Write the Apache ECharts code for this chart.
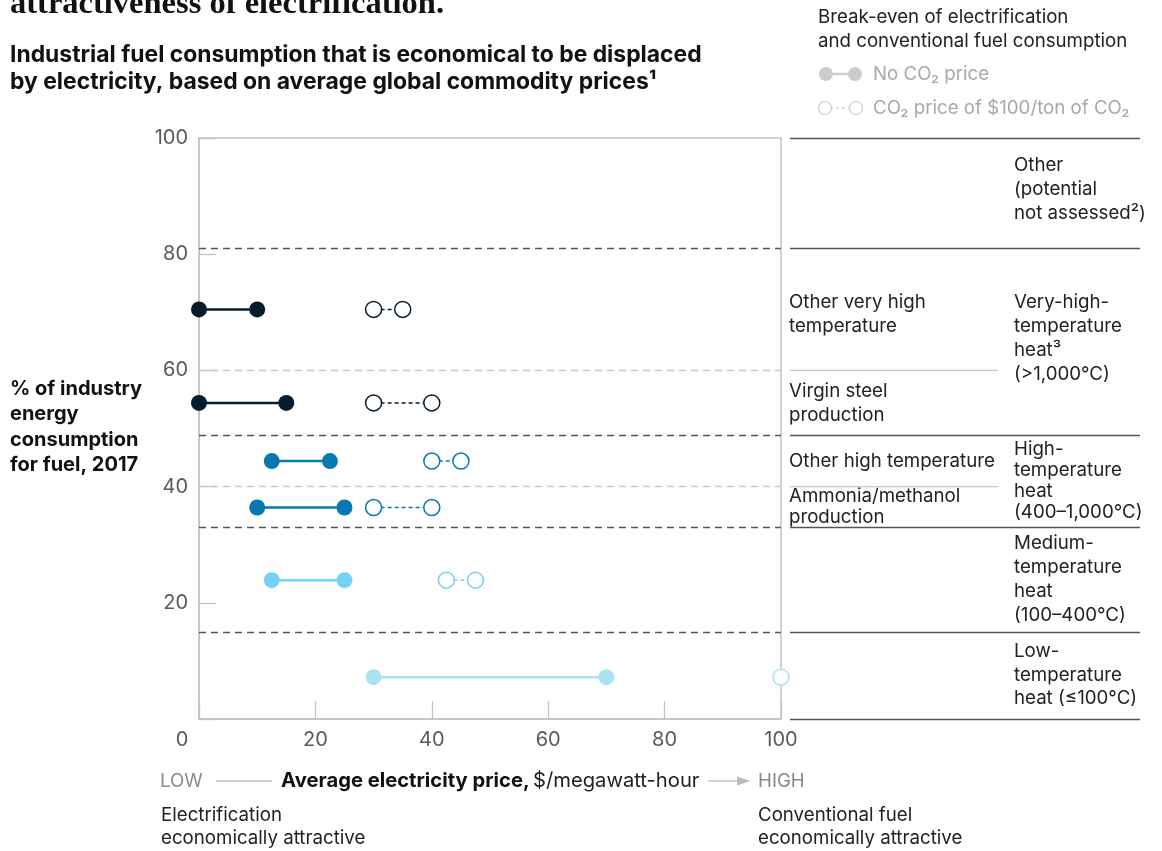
<!DOCTYPE html>
<html>
<head>
<meta charset="utf-8">
<script src="https://cdn.jsdelivr.net/npm/echarts@6/dist/echarts.min.js"></script>
<style>
html,body{margin:0;padding:0;background:#fff;}
#chart{width:1162px;height:851px;}
</style>
</head>
<body>
<div id="chart"></div>
<script>
// ---- data ----
const rowNames = ['Other very high temperature', 'Virgin steel production', 'Other high temperature', 'Ammonia/methanol production', 'Medium-temperature heat', 'Low-temperature heat'];
const rowY = [70.5, 54.4, 44.4, 36.4, 23.9, 7.2];
const noCo2Low = [0, 0, 12.5, 10, 12.5, 30];
const noCo2High = [10, 15, 22.5, 25, 25, 70];
const co2Low = [30, 30, 40, 30, 42.5, 100];
const co2High = [35, 40, 45, 40, 47.5, 100];
const groupBounds = [81, 48.9, 33, 15];
const subBounds = [60, 40];
const rightBounds = [100, 81, 48.9, 33, 15, 0];
const xTickValues = [0, 20, 40, 60, 80, 100];
const yTickValues = [20, 40, 60, 80, 100];

// ---- style ----
const rowColors = ['#051c2c', '#051c2c', '#0679b2', '#0679b2', '#74d3f2', '#a8e4ef'];
const FONT = 'Inter, "Liberation Sans", sans-serif';
const TXT = '#222';
const BASE = 18.7;

const series = [];
rowNames.forEach((name, i) => {
  const c = rowColors[i];
  series.push({
    name: name + ' (no CO2 price)', type: 'line', xAxisIndex: 0, yAxisIndex: 0,
    data: [[noCo2Low[i], rowY[i]], [noCo2High[i], rowY[i]]],
    symbol: 'circle', symbolSize: 16, clip: false, silent: true, z: 5,
    itemStyle: { color: c, borderWidth: 0 },
    lineStyle: { color: c, width: 2.5 }
  });
  const co2Data = co2Low[i] === co2High[i] ? [[co2Low[i], rowY[i]]] : [[co2Low[i], rowY[i]], [co2High[i], rowY[i]]];
  series.push({
    name: name + ' (CO2 price)', type: 'line', xAxisIndex: 0, yAxisIndex: 0,
    data: co2Data,
    symbol: 'circle', symbolSize: 16, clip: false, silent: true, z: 5,
    showSymbol: true,
    itemStyle: { color: '#fff', borderColor: c, borderWidth: 1.5 },
    lineStyle: { color: c, width: 1.5, type: [4, 3] }
  });
});

// separators in plot
series.push({
  type: 'line', xAxisIndex: 0, yAxisIndex: 0, data: [], silent: true, z: 2,
  markLine: {
    silent: true, symbol: 'none', label: { show: false },
    data: groupBounds.map(v => ({ yAxis: v, lineStyle: { color: '#555', width: 1.3, type: [7, 5] } }))
      .concat(subBounds.map(v => ({ yAxis: v, lineStyle: { color: '#c8c8c8', width: 1.3, type: [7, 5] } })))
  }
});
// right-side table lines
series.push({
  type: 'line', xAxisIndex: 1, yAxisIndex: 1, data: [], silent: true,
  markLine: {
    silent: true, symbol: 'none', label: { show: false },
    data: rightBounds.map(v => ({ yAxis: v, lineStyle: { color: '#555', width: 1.3, type: 'solid' } }))
  }
});
subBounds.forEach(v => {
  series.push({
    type: 'line', xAxisIndex: 1, yAxisIndex: 1, data: [[0, v], [59.4, v]], silent: true,
    symbol: 'none', lineStyle: { color: '#c8c8c8', width: 1.3 }
  });
});

function txt(x, y, text, opts) {
  opts = opts || {};
  return {
    type: 'text', x: x, y: y, silent: true,
    style: Object.assign({
      text: text, fill: TXT, font: (opts.weight || 'normal') + ' ' + (opts.size || BASE) + 'px ' + FONT,
      textAlign: 'left', textVerticalAlign: 'middle', lineHeight: opts.lh || 24
    }, opts.style || {})
  };
}

const graphics = [
  {
    type: 'text', x: 10, y: 21, silent: true,
    style: { text: 'attractiveness of electrification.', fill: '#111', font: 'bold 32.5px "Liberation Serif", serif', textVerticalAlign: 'bottom' }
  },
  txt(10, 68.5, 'Industrial fuel consumption that is economical to be displaced\nby electricity, based on average global commodity prices¹', { weight: 'bold', size: 22.9, lh: 27.5, style: { fill: '#111' } }),
  txt(10, 427, '% of industry\nenergy\nconsumption\nfor fuel, 2017', { weight: 'bold', size: 20, lh: 25.5, style: { fill: '#111' } }),
  // legend
  txt(818, 29, 'Break-even of electrification\nand conventional fuel consumption', { lh: 24 }),
  { type: 'line', silent: true, shape: { x1: 826, y1: 74, x2: 855, y2: 74 }, style: { stroke: '#cccccc', lineWidth: 2.5 } },
  { type: 'circle', silent: true, shape: { cx: 826, cy: 74, r: 7 }, style: { fill: '#cccccc' } },
  { type: 'circle', silent: true, shape: { cx: 855, cy: 74, r: 7 }, style: { fill: '#cccccc' } },
  txt(873, 74, 'No CO₂ price', { style: { fill: '#a8a8a8' } }),
  { type: 'line', silent: true, shape: { x1: 824, y1: 108, x2: 857, y2: 108 }, style: { stroke: '#cccccc', lineWidth: 1.3, lineDash: [3, 3] } },
  { type: 'circle', silent: true, shape: { cx: 825, cy: 108, r: 6.5 }, style: { fill: '#fff', stroke: '#cccccc', lineWidth: 1.2 } },
  { type: 'circle', silent: true, shape: { cx: 856, cy: 108, r: 6.5 }, style: { fill: '#fff', stroke: '#cccccc', lineWidth: 1.2 } },
  txt(873, 108, 'CO₂ price of $100/ton of CO₂', { style: { fill: '#a8a8a8' } }),
  // right table labels
  txt(1014, 189, 'Other\n(potential\nnot assessed²)', { lh: 24 }),
  txt(789, 314, 'Other very high\ntemperature', { lh: 24 }),
  txt(1014, 338, 'Very-high-\ntemperature\nheat³\n(>1,000°C)', { lh: 24 }),
  txt(789, 403, 'Virgin steel\nproduction', { lh: 24 }),
  txt(789, 461, 'Other high temperature', { lh: 24 }),
  txt(1014, 481, 'High-\ntemperature\nheat\n(400–1,000°C)', { lh: 21 }),
  txt(789, 507, 'Ammonia/methanol\nproduction', { lh: 21 }),
  txt(1014, 579, 'Medium-\ntemperature\nheat\n(100–400°C)', { lh: 24 }),
  txt(1014, 675, 'Low-\ntemperature\nheat (≤100°C)', { lh: 23.5 }),
  // bottom axis title
  txt(160, 781, 'LOW', { style: { fill: '#8a8a8a' } }),
  { type: 'line', silent: true, shape: { x1: 216, y1: 781, x2: 272, y2: 781 }, style: { stroke: '#bbbbbb', lineWidth: 1.3 } },
  {
    type: 'text', x: 281, y: 781, silent: true,
    style: {
      text: '{b|Average electricity price,} {n|$/megawatt-hour}', textVerticalAlign: 'middle',
      rich: { b: { font: 'bold 20.2px ' + FONT, fill: '#111' }, n: { font: 'normal 20.2px ' + FONT, fill: TXT } }
    }
  },
  { type: 'line', silent: true, shape: { x1: 708, y1: 781, x2: 740, y2: 781 }, style: { stroke: '#bbbbbb', lineWidth: 1.3 } },
  { type: 'polygon', silent: true, shape: { points: [[737, 776.5], [750, 781], [737, 785.5]] }, style: { fill: '#bbbbbb' } },
  txt(758, 781, 'HIGH', { style: { fill: '#8a8a8a' } }),
  txt(161, 827, 'Electrification\neconomically attractive', { lh: 23 }),
  txt(758, 827, 'Conventional fuel\neconomically attractive', { lh: 23 })
];

const chart = echarts.init(document.getElementById('chart'), null, { renderer: 'canvas' });
chart.setOption({
  animation: false,
  backgroundColor: '#fff',
  grid: [
    { left: 199, right: 381, top: 138, bottom: 132, show: true, borderColor: '#c4c4c4', borderWidth: 1.5, backgroundColor: 'transparent' },
    { left: 790, right: 22, top: 138, bottom: 132, show: false }
  ],
  xAxis: [
    {
      gridIndex: 0, type: 'value', min: 0, max: 100, interval: 20,
      axisLine: { show: true, lineStyle: { color: '#c4c4c4', width: 1.5 } },
      axisTick: { show: true, inside: true, length: 18, lineStyle: { color: '#c4c4c4', width: 1.3 } },
      splitLine: { show: false },
      axisLabel: {
        margin: 11, color: '#5a5a5a', fontSize: 20, fontFamily: FONT,
        formatter: v => v === 0 ? '{z|0}' : String(v),
        rich: { z: { padding: [0, 34, 0, 0], color: '#5a5a5a', fontSize: 20, fontFamily: FONT } }
      }
    },
    { gridIndex: 1, type: 'value', min: 0, max: 100, show: false }
  ],
  yAxis: [
    {
      gridIndex: 0, type: 'value', min: 0, max: 100, interval: 20,
      axisLine: { show: true, lineStyle: { color: '#c4c4c4', width: 1.5 } },
      axisTick: { show: true, inside: true, length: 17, lineStyle: { color: '#c4c4c4', width: 1.3 } },
      splitLine: { show: false },
      axisLabel: { margin: 11, color: '#5a5a5a', fontSize: 20, fontFamily: FONT, formatter: v => v === 0 ? '' : String(v) }
    },
    { gridIndex: 1, type: 'value', min: 0, max: 100, show: false }
  ],
  series: series,
  graphic: graphics
});
</script>
</body>
</html>
